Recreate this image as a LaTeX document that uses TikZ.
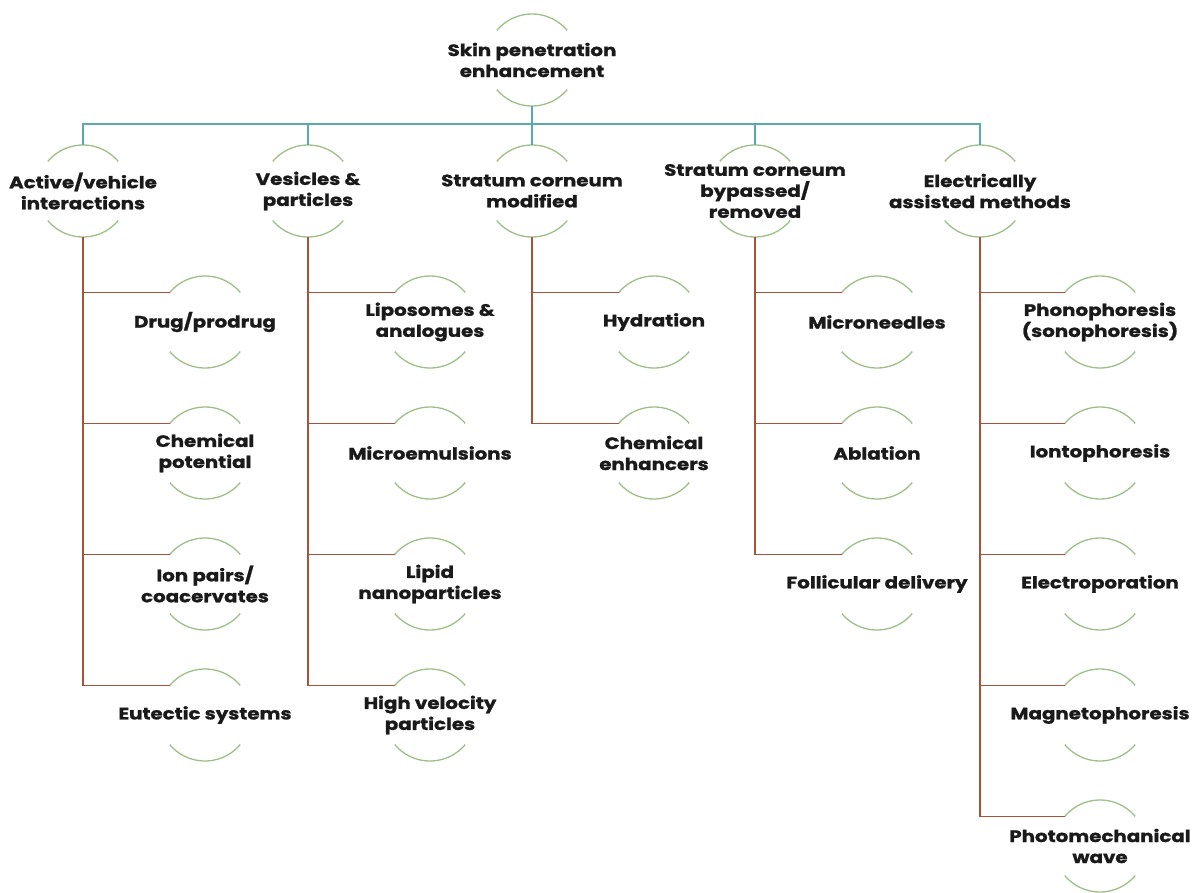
\documentclass[tikz,border=0pt]{standalone}
\usepackage{fontspec}
\setmainfont{Poppins}[FakeStretch=1.2, BoldFeatures={FakeBold=1.2}]
\usetikzlibrary{calc}
\definecolor{arcgreen}{HTML}{9DBF86}
\definecolor{tealline}{HTML}{5AA9B0}
\definecolor{brownline}{HTML}{A9523A}
\definecolor{txtcol}{HTML}{1A1A1A}
\tikzset{
  lbl/.style={font=\bfseries\fontsize{16.5}{21}\selectfont, text=txtcol, align=center, inner sep=0pt},
  arcst/.style={draw=arcgreen, line width=1.3pt},
  tl/.style={draw=tealline, line width=1.6pt},
  bl/.style={draw=brownline, line width=1.6pt},
}
\newcommand{\cnode}[4]{%
  \node[lbl] (#1) at (#2,-#3) {#4};
  \draw[arcst] ($(#1.center)+(40:46)$) arc[start angle=40,end angle=140,radius=46];
  \draw[arcst] ($(#1.center)+(220:46)$) arc[start angle=220,end angle=320,radius=46];
  \coordinate (#1-t) at ($(#1.center)+(0,46)$);
  \coordinate (#1-b) at ($(#1.center)+(0,-46)$);
  \coordinate (#1-l) at ($(#1.center)+(140:46)$);
}
\begin{document}
\begin{tikzpicture}[x=1pt,y=1pt]
\useasboundingbox (0,0) rectangle (1200,-893);
\cnode{root}{532}{60}{Skin penetration\\enhancement}
\cnode{a}{83}{191}{Active/vehicle\\interactions}
\cnode{b}{308}{191}{Vesicles \&\\particles}
\cnode{c}{532}{191}{Stratum corneum\\modified}
\cnode{d}{755}{191}{Stratum corneum\\bypassed/\\removed}
\cnode{e}{980}{191}{Electrically\\assisted methods}
% level 3
\cnode{a1}{205}{322}{Drug/prodrug}
\cnode{a2}{205}{453}{Chemical\\potential}
\cnode{a3}{205}{584}{Ion pairs/\\coacervates}
\cnode{a4}{205}{715}{Eutectic systems}
\cnode{b1}{430}{322}{Liposomes \&\\analogues}
\cnode{b2}{430}{453}{Microemulsions}
\cnode{b3}{430}{584}{Lipid\\nanoparticles}
\cnode{b4}{430}{715}{High velocity\\particles}
\cnode{c1}{654}{322}{Hydration}
\cnode{c2}{654}{453}{Chemical\\enhancers}
\cnode{d1}{877}{322}{Microneedles}
\cnode{d2}{877}{453}{Ablation}
\cnode{d3}{877}{584}{Follicular delivery}
\cnode{e1}{1100}{322}{Phonophoresis\\(sonophoresis)}
\cnode{e2}{1100}{453}{Iontophoresis}
\cnode{e3}{1100}{584}{Electroporation}
\cnode{e4}{1100}{715}{Magnetophoresis}
\cnode{e5}{1100}{846}{Photomechanical\\wave}
% level 1 connectors
\foreach \n in {a,b,c,d,e}{
  \draw[tl] (root-b) -- ++(0,-18) -| (\n-t);
}
% level 2 connectors
\foreach \p/\k in {a/a1,a/a2,a/a3,a/a4,b/b1,b/b2,b/b3,b/b4,c/c1,c/c2,d/d1,d/d2,d/d3,e/e1,e/e2,e/e3,e/e4,e/e5}{
  \draw[bl] (\p-b) |- (\k-l);
}
\end{tikzpicture}
\end{document}
